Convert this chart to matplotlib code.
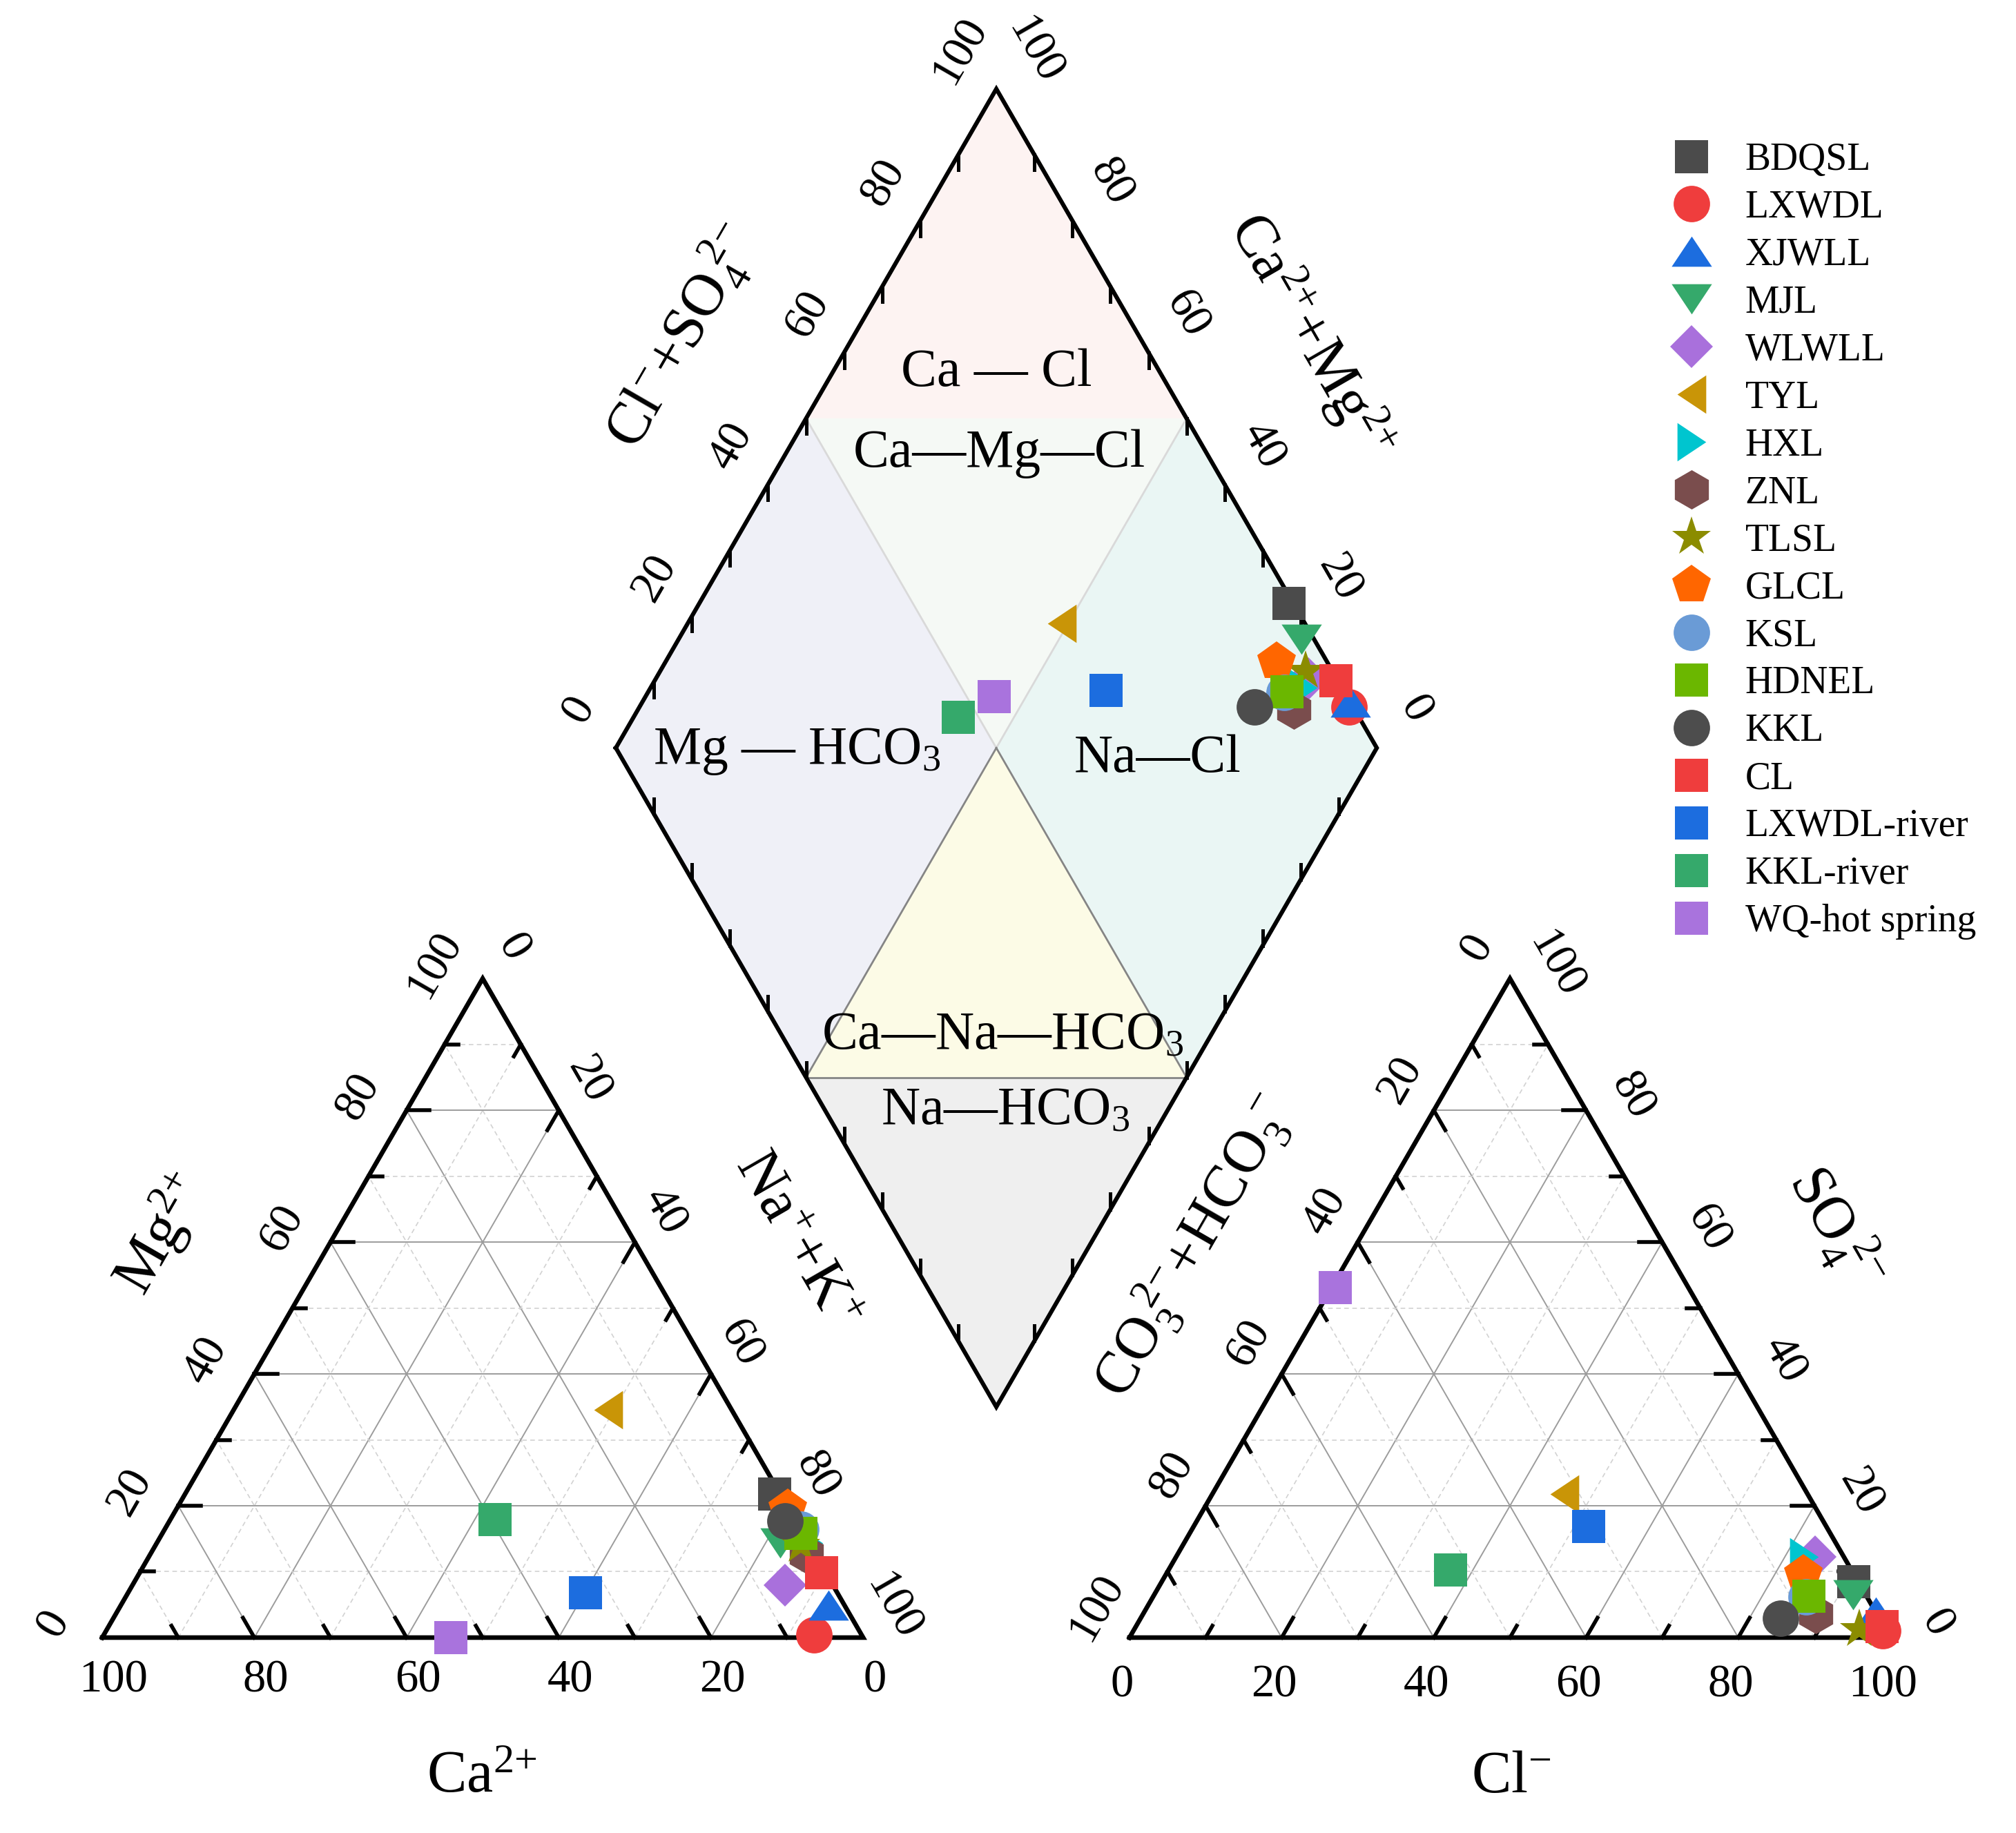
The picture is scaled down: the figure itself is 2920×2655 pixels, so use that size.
import numpy as np
import matplotlib.pyplot as plt
from matplotlib.patches import Polygon

plt.rcParams['font.family'] = ['Liberation Serif', 'DejaVu Serif']
plt.rcParams['mathtext.fontset'] = 'custom'
plt.rcParams['mathtext.rm'] = 'Liberation Serif'
plt.rcParams['mathtext.it'] = 'Liberation Serif:italic'
plt.rcParams['mathtext.bf'] = 'Liberation Serif:bold'

# sample groups, meq %
names = ['BDQSL', 'LXWDL', 'XJWLL', 'MJL', 'WLWLL', 'TYL', 'HXL', 'ZNL', 'TLSL',
         'GLCL', 'KSL', 'HDNEL', 'KKL', 'CL', 'LXWDL-river', 'KKL-river', 'WQ-hot spring']
ca = [0.7, 6.3, 2.1, 3.8, 6.3, 16.2, 0.0, 1.1, 1.2, 0.1, 0.0, 0.3, 1.45, 0.6, 33.1, 39.4, 54.2]
mg = [21.8, 0.4, 4.9, 14.3, 8.0, 34.6, 14.3, 12.7, 14.0, 19.6, 16.4, 15.8, 17.7, 9.8, 6.8, 17.9, 0.0]
na_k = [77.5, 93.3, 93.0, 81.9, 85.7, 49.2, 85.7, 86.2, 84.8, 80.3, 83.6, 83.9, 80.85, 89.6, 60.1, 42.7, 45.8]
hco3 = [0.6, 0.5, 0.0, 1.65, 3.75, 31.9, 5.2, 8.05, 3.5, 6.6, 8.0, 7.6, 12.94, 0.25, 31.2, 52.7, 46.4]
cl = [90.9, 98.5, 96.1, 91.85, 84.0, 46.3, 82.5, 88.4, 95.3, 83.8, 85.8, 86.1, 84.1, 98.05, 51.9, 37.0, 0.5]
so4 = [8.5, 1.0, 3.9, 6.5, 12.25, 21.8, 12.3, 3.55, 1.2, 9.6, 6.2, 6.3, 2.96, 1.7, 16.9, 10.3, 53.1]

tri_up = [(0, 0.75), (-1, -0.75), (1, -0.75)]
tri_dn = [(0, -0.75), (-1, 0.75), (1, 0.75)]
tri_lf = [(-0.75, 0), (0.75, 1), (0.75, -1)]
tri_rt = [(0.75, 0), (-0.75, 1), (-0.75, -1)]
markers = ['s', 'o', tri_up, tri_dn, 'D', tri_lf, tri_rt, 'h', '*', 'p', 'o', 's', 'o', 's', 's', 's', 's']
msizes = [17, 19, 21, 21, 16, 20, 20, 20.5, 21.5, 21, 19, 17, 19, 17, 17, 17, 17]
colors = ['#4b4b4b', '#ef3d3d', '#1c6ddf', '#35a96b', '#a970dc', '#c99507', '#00c5cf', '#7a4d4d',
          '#8b8c00', '#ff6600', '#6a9bd6', '#6bb700', '#4d4d4d', '#ef3d3d', '#1c6ddf', '#35a96b', '#a973dd']

H = np.sqrt(3) / 2
OFF = 135.0  # x-offset of the anion triangle


def tern(a, b, c, x0=0.0):
    a, b, c = np.asarray(a, float), np.asarray(b, float), np.asarray(c, float)
    s = a + b + c
    return x0 + 100 * (c + b / 2) / s, 100 * b * H / s


# diamond geometry
bot = np.array([OFF / 2 + 50, (OFF - 100) * H])
v_r = np.array([50, 100 * H])
v_l = np.array([-50, 100 * H])
left, top, right = bot + v_l, bot + v_l + v_r, bot + v_r
ctr = bot + (v_l + v_r) / 2


def dia(cm, an):
    cm, an = np.asarray(cm) / 100, np.asarray(an) / 100
    return bot[0] + an * v_r[0] + cm * v_l[0], bot[1] + an * v_r[1] + cm * v_l[1]


fig = plt.figure(figsize=(14.6, 13.275), dpi=200)
ax = fig.add_axes([0, 0, 1, 1])
ax.set_xlim(-13.43, 251.5)
ax.set_ylim(-25.68, 215.2)
ax.axis('off')

tick_fs, title_fs, zone_fs = 24, 31, 28

# ---- the two triangles
for x0 in (0.0, OFF):
    for k in range(10, 100, 10):
        if k % 20 == 0:
            st = dict(color='#9c9c9c', lw=0.7, ls='-')
        else:
            st = dict(color='#d2d2d2', lw=0.6, ls=(0, (4, 3)))
        for p, q in [((100 - k, k, 0), (0, k, 100 - k)),
                     ((100 - k, 0, k), (0, 100 - k, k)),
                     ((k, 0, 100 - k), (k, 100 - k, 0))]:
            xa, ya = tern(*p, x0=x0)
            xb, yb = tern(*q, x0=x0)
            ax.plot([xa, xb], [ya, yb], zorder=1, **st)
    ax.plot([x0, x0 + 100, x0 + 50, x0], [0, 0, 100 * H, 0], color='k', lw=2.4,
            solid_joinstyle='miter', zorder=5)

# ticks, each along the line of its own variable
def ticks(pts, d):
    for k, (px, py) in pts:
        L = 3.0 if k % 20 == 0 else 1.8
        ax.plot([px, px + d[0] * L], [py, py + d[1] * L], color='k', lw=2.0, zorder=5)

ks = list(range(10, 100, 10))
ticks([(k, tern(k, 0, 100 - k)) for k in ks], (-0.5, H))
ticks([(k, tern(100 - k, k, 0)) for k in ks], (1, 0))
ticks([(k, tern(0, 100 - k, k)) for k in ks], (-0.5, -H))
ticks([(k, tern(100 - k, 0, k, OFF)) for k in ks], (0.5, H))
ticks([(k, tern(k, 100 - k, 0, OFF)) for k in ks], (0.5, -H))
ticks([(k, tern(0, k, 100 - k, OFF)) for k in ks], (-1, 0))

for k in range(0, 101, 20):
    x, y = tern(k, 0, 100 - k)
    ax.text(x + 1.5, y - 5.6, str(k), fontsize=tick_fs, ha='center', va='center')
    x, y = tern(100 - k, k, 0)
    ax.text(x - 6.3, y + 1.8, str(k), fontsize=tick_fs, ha='center', va='center', rotation=60)
    x, y = tern(0, 100 - k, k)
    ax.text(x + 3.9, y + 4.0, str(k), fontsize=tick_fs, ha='center', va='center', rotation=-60)
    x, y = tern(100 - k, 0, k, OFF)
    ax.text(x - 1.0, y - 6.3, str(k), fontsize=tick_fs, ha='center', va='center')
    x, y = tern(k, 100 - k, 0, OFF)
    ax.text(x - 4.3, y + 4.0, str(k), fontsize=tick_fs, ha='center', va='center', rotation=60)
    x, y = tern(0, k, 100 - k, OFF)
    ax.text(x + 6.0, y + 1.8, str(k), fontsize=tick_fs, ha='center', va='center', rotation=-60)
    x, y = left + k / 100 * v_r
    ax.text(x - 4.8, y + 5.0, str(k), fontsize=tick_fs, ha='center', va='center', rotation=60)
    x, y = right + k / 100 * v_l
    ax.text(x + 5.0, y + 5.0, str(k), fontsize=tick_fs, ha='center', va='center', rotation=-60)

# ---- diamond zones
ul, ur = (left + top) / 2, (right + top) / 2
ll, lr = (left + bot) / 2, (right + bot) / 2
zones = [([top, ul, ur], '#fdf3f2'),
         ([ul, ur, ctr], '#f5f9f5'),
         ([left, ul, ctr, ll], '#eff0f7'),
         ([right, ur, ctr, lr], '#eaf6f4'),
         ([ctr, ll, lr], '#fcfbe6'),
         ([bot, ll, lr], '#efefef')]
for verts, fc in zones:
    ax.add_patch(Polygon(verts, closed=True, fc=fc, ec='none', zorder=0))
for p, q, c in [(ul, ctr, '#d9d9d9'), (ur, ctr, '#d9d9d9'),
                (ctr, ll, '#858585'), (ctr, lr, '#858585'), (ll, lr, '#858585')]:
    ax.plot([p[0], q[0]], [p[1], q[1]], color=c, lw=1.0, zorder=1)
d = np.array([left, top, right, bot, left])
ax.plot(d[:, 0], d[:, 1], color='k', lw=2.2, solid_joinstyle='miter', zorder=5)
for k in ks:
    for p0, v, s in [(left, v_r, -1), (right, v_l, -1), (bot, v_l, 1), (bot, v_r, 1)]:
        px, py = p0 + k / 100 * v
        ax.plot([px, px], [py, py + s * 2.0], color='k', lw=1.8, zorder=5)

dash = '\u2014'
zone_txt = [(117.5, 166.2, 'Ca ' + dash + ' Cl'),
            (117.9, 155.6, 'Ca' + dash + 'Mg' + dash + 'Cl'),
            (91.3, 116.4, 'Mg ' + dash + r' HCO$_3$'),
            (138.7, 115.5, 'Na' + dash + 'Cl'),
            (118.3, 79.0, 'Ca' + dash + 'Na' + dash + r'HCO$_3$'),
            (118.7, 69.1, 'Na' + dash + r'HCO$_3$')]
for x, y, s in zone_txt:
    ax.text(x, y, s, fontsize=zone_fs, ha='center', va='center', zorder=3)

# ---- axis titles
titles = [(49.9, -18.4, r'$\mathregular{Ca^{2{+}}}$', 0),
          (7.7, 53.0, r'$\mathregular{Mg^{2{+}}}$', 60),
          (91.3, 52.2, r'$\mathregular{Na^{+}{+}K^{+}}$', -60),
          (185.1, -18.4, r'$\mathregular{Cl^{-}}$', 0),
          (143.4, 51.4, r'$\mathregular{CO_3^{\ 2{-}}{+}HCO_3^{\ -}}$', 60),
          (227.9, 53.9, r'$\mathregular{SO_4^{\ 2{-}}}$', -60),
          (76.1, 171.0, r'$\mathregular{Cl^{-}{+}SO_4^{\ 2{-}}}$', 60),
          (158.9, 171.0, r'$\mathregular{Ca^{2{+}}{+}Mg^{2{+}}}$', -60)]
for x, y, s, r in titles:
    ax.text(x, y, s, fontsize=title_fs, ha='center', va='center', rotation=r)

# ---- samples
for i, n in enumerate(names):
    kw = dict(ls='none', marker=markers[i], ms=msizes[i], color=colors[i], mew=0, zorder=6 + i * 0.01)
    cx, cy = tern(ca[i], mg[i], na_k[i])
    ax.plot(cx, cy, label=n, **kw)
    axx, axy = tern(hco3[i], so4[i], cl[i], OFF)
    ax.plot(axx, axy, **kw)
    cm = 100 * (ca[i] + mg[i]) / (ca[i] + mg[i] + na_k[i])
    an = 100 * (cl[i] + so4[i]) / (hco3[i] + cl[i] + so4[i])
    dx, dy = dia(cm, an)
    ax.plot(dx, dy, **kw)

ax.legend(loc='upper left', bbox_to_anchor=(2422 / 2920, 1 - 206 / 2655), frameon=False,
          fontsize=20, borderpad=0, borderaxespad=0, handlelength=1.0, handletextpad=0.9,
          labelspacing=0.305, markerscale=1.0)

fig.savefig('out.png', dpi=200)
